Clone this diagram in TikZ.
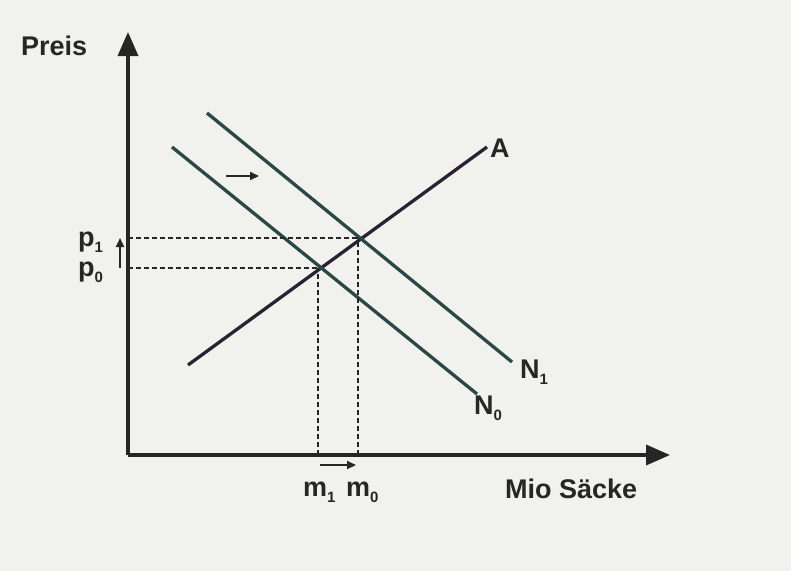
\documentclass[tikz,border=0pt]{standalone}
\usepackage{fontspec}
\setmainfont{Liberation Sans}
\usetikzlibrary{arrows.meta}
\definecolor{bg}{HTML}{F1F1EE}
\definecolor{ncol}{HTML}{2C4846}
\definecolor{acol}{HTML}{2A2232}
\definecolor{txt}{HTML}{262626}
\newcommand{\lowsub}[1]{\raisebox{-0.25em}{\fontsize{15}{16}\selectfont #1}}
\begin{document}
\begin{tikzpicture}[x=1pt,y=-1pt,
  axis/.style={line width=3.5pt,draw=txt,-{Triangle[length=24pt,width=20pt]}},
  demand/.style={line width=3.3pt,draw=ncol},
  supply/.style={line width=3.3pt,draw=acol},
  guide/.style={line width=2.4pt,draw=txt,dash pattern=on 5pt off 3pt},
  shiftarrow/.style={line width=2pt,draw=txt,-{Triangle[length=9pt,width=8pt]}},
  lbl/.style={font=\bfseries\fontsize{27}{29}\selectfont,text=txt,inner sep=0pt}]
\fill[bg] (0,0) rectangle (791,571);
\useasboundingbox (0,0) rectangle (791,571);
% axes
\coordinate (O) at (128,455);
\coordinate (Ytop) at (128,32);
\coordinate (Xend) at (670,455);
\draw[axis] (O) -- (Ytop);
\draw[axis] (O) -- (Xend);
\node[lbl,anchor=base west] (preis) at (21,55) {Preis};
\node[lbl,anchor=base west] (mio) at (505,498) {Mio Säcke};
% curves
\coordinate (A1) at (188,365);
\coordinate (A2) at (487,147);
\coordinate (N01) at (172,147);
\coordinate (N02) at (477,394);
\coordinate (N11) at (207,113);
\coordinate (N12) at (512,362);
\draw[supply] (A1) -- (A2);
\draw[demand] (N01) -- (N02);
\draw[demand] (N11) -- (N12);
\node[lbl,anchor=base west] (Alab) at (490,157) {A};
\node[lbl,anchor=base west] (N0lab) at (474,414) {N\lowsub{0}};
\node[lbl,anchor=base west] (N1lab) at (520,378) {N\lowsub{1}};
% intersections
\coordinate (E0) at (318,268);
\coordinate (E1) at (358,238);
\coordinate (yp1) at (128,238);
\coordinate (yp0) at (128,268);
\coordinate (xm1) at (318,455);
\coordinate (xm0) at (358,455);
\draw[guide] (yp1) -- (E1);
\draw[guide] (yp0) -- (E0);
\draw[guide] (xm1) -- (E0);
\draw[guide] (xm0) -- (E1);
\node[lbl,anchor=base west] (p1) at (78,246) {p\lowsub{1}};
\node[lbl,anchor=base west] (p0) at (78,276) {p\lowsub{0}};
\node[lbl,anchor=base west] (m1) at (303,496) {m\lowsub{1}};
\node[lbl,anchor=base west] (m0) at (346,496) {m\lowsub{0}};
% shift arrows
\coordinate (sa1) at (120,268);
\coordinate (sa2) at (120,238);
\draw[shiftarrow] (sa1) -- (sa2);
\coordinate (sb1) at (320,465);
\coordinate (sb2) at (356,465);
\draw[shiftarrow] (sb1) -- (sb2);
\coordinate (sc1) at (226,176);
\coordinate (sc2) at (259,176);
\draw[shiftarrow] (sc1) -- (sc2);
\end{tikzpicture}
\end{document}
